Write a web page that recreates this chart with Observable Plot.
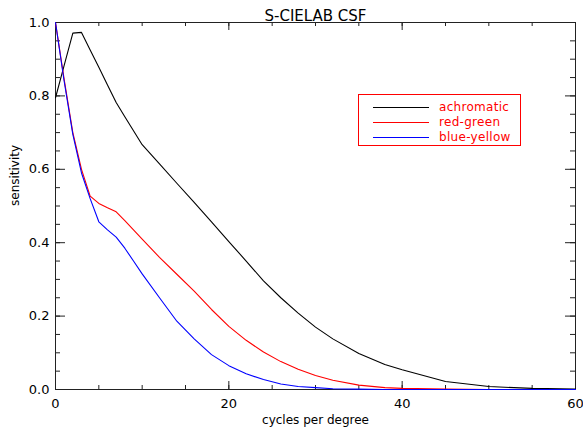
<!DOCTYPE html>
<html>
<head>
<meta charset="utf-8">
<script src="https://cdn.jsdelivr.net/npm/d3@7"></script>
<script src="https://cdn.jsdelivr.net/npm/@observablehq/plot@0.6"></script>
<style>
  html, body { margin: 0; padding: 0; background: #fff; }
  #wrap { position: relative; width: 583px; height: 434px; font-family: "DejaVu Sans", sans-serif; }
  #legend { position: absolute; left: 358px; top: 94px; width: 163px; height: 52px; border: 1px solid #ff0000; box-sizing: border-box; }
  .row { position: absolute; left: 0; height: 14px; display: flex; align-items: center; }
  .sw { width: 56px; height: 1px; margin-left: 14px; margin-right: 10px; }
  .lbl { color: #ff0000; font-size: 12px; letter-spacing: 0.3px; line-height: 14px; }
</style>
</head>
<body>
<div id="wrap">
  <div id="chart"></div>
  <div id="legend"></div>
</div>
<script>
// ---- data ----
const freq = [0, 1, 2, 3, 4, 5, 6, 7, 8, 9, 10, 12, 14, 16, 18, 20, 22, 24, 26, 28, 30, 32, 35, 38, 40, 45, 50, 55, 60];
const achromatic = [0.795, 0.883, 0.971, 0.973, 0.925, 0.878, 0.830, 0.782, 0.743, 0.705, 0.667, 0.615, 0.562, 0.510, 0.457, 0.403, 0.350, 0.296, 0.250, 0.208, 0.170, 0.138, 0.098, 0.068, 0.054, 0.022, 0.008, 0.003, 0.001];
const redGreen   = [1.000, 0.845, 0.700, 0.600, 0.527, 0.507, 0.495, 0.484, 0.460, 0.435, 0.410, 0.360, 0.314, 0.268, 0.218, 0.172, 0.134, 0.102, 0.076, 0.055, 0.038, 0.025, 0.012, 0.005, 0.003, 0.001, 0.000, 0.000, 0.000];
const blueYellow = [1.000, 0.840, 0.695, 0.590, 0.520, 0.457, 0.435, 0.415, 0.385, 0.350, 0.315, 0.250, 0.186, 0.138, 0.095, 0.065, 0.043, 0.027, 0.015, 0.008, 0.005, 0.002, 0.001, 0.000, 0.000, 0.000, 0.000, 0.000, 0.000];

const seriesNames  = ["achromatic", "red-green", "blue-yellow"];
const seriesColors = ["#000000", "#ff0000", "#0000ff"];
const seriesValues = [achromatic, redGreen, blueYellow];

const xMajorTicks = [0, 20, 40, 60];
const xMinorTicks = [0, 5, 10, 15, 20, 25, 30, 35, 40, 45, 50, 55, 60];
const yMajorTicks = [0, 0.2, 0.4, 0.6, 0.8, 1.0];
const yMinorTicks = [0, 0.05, 0.1, 0.15, 0.2, 0.25, 0.3, 0.35, 0.4, 0.45, 0.5, 0.55, 0.6, 0.65, 0.7, 0.75, 0.8, 0.85, 0.9, 0.95, 1.0];

const titleText = "S-CIELAB CSF";
const xLabel = "cycles per degree";
const yLabel = "sensitivity";

// ---- build table ----
const rows = [];
seriesNames.forEach((name, i) => {
  freq.forEach((f, j) => rows.push({series: name, f, v: seriesValues[i][j]}));
});

const W = 583, H = 434, mL = 55, mR = 8, mT = 22, mB = 45;
const fw = W - mL - mR, fh = H - mT - mB;
const axisColor = "#222";

const chart = Plot.plot({
  width: W,
  height: H,
  marginLeft: mL,
  marginRight: mR,
  marginTop: mT,
  marginBottom: mB,
  style: {fontFamily: "DejaVu Sans, sans-serif", background: "#fff", color: "#000"},
  x: {domain: [0, 60], axis: null},
  y: {domain: [0, 1], axis: null},
  color: {domain: seriesNames, range: seriesColors},
  marks: [
    // inward ticks: bottom / top
    Plot.ruleX(xMinorTicks, {x: d => d, insetTop: fh - 4, stroke: axisColor}),
    Plot.ruleX(xMajorTicks, {x: d => d, insetTop: fh - 8, stroke: axisColor}),
    Plot.ruleX(xMinorTicks, {x: d => d, insetBottom: fh - 4, stroke: axisColor}),
    Plot.ruleX(xMajorTicks, {x: d => d, insetBottom: fh - 8, stroke: axisColor}),
    // inward ticks: left / right
    Plot.ruleY(yMinorTicks, {y: d => d, insetRight: fw - 5, stroke: axisColor}),
    Plot.ruleY(yMajorTicks, {y: d => d, insetRight: fw - 10, stroke: axisColor}),
    Plot.ruleY(yMinorTicks, {y: d => d, insetLeft: fw - 5, stroke: axisColor}),
    Plot.ruleY(yMajorTicks, {y: d => d, insetLeft: fw - 10, stroke: axisColor}),
    Plot.frame({stroke: axisColor}),
    // tick labels
    Plot.axisX(xMajorTicks, {anchor: "bottom", tickSize: 0, tickPadding: 9, tickFormat: d3.format("d"), label: null, fontSize: 13}),
    Plot.axisY(yMajorTicks, {anchor: "left", tickSize: 0, tickPadding: 6, tickFormat: d3.format(".1f"), label: null, fontSize: 13}),
    // lines
    Plot.line(rows, {x: "f", y: "v", z: "series", stroke: "series", strokeWidth: 1.1}),
    // texts
    Plot.text([titleText], {frameAnchor: "top", dy: -12, fontSize: 15, letterSpacing: 1}),
    Plot.text([xLabel], {frameAnchor: "bottom", dy: 34, fontSize: 12, letterSpacing: 0.4}),
    Plot.text([yLabel], {frameAnchor: "left", dx: -40, rotate: -90, fontSize: 12, letterSpacing: 0.4})
  ]
});
document.getElementById("chart").appendChild(chart);

// ---- legend ----
const legend = document.getElementById("legend");
seriesNames.forEach((name, i) => {
  const row = document.createElement("div");
  row.className = "row";
  row.style.top = (5 + i * 15) + "px";
  const sw = document.createElement("div");
  sw.className = "sw";
  sw.style.background = seriesColors[i];
  const lb = document.createElement("span");
  lb.className = "lbl";
  lb.textContent = name;
  row.appendChild(sw);
  row.appendChild(lb);
  legend.appendChild(row);
});
</script>
</body>
</html>
